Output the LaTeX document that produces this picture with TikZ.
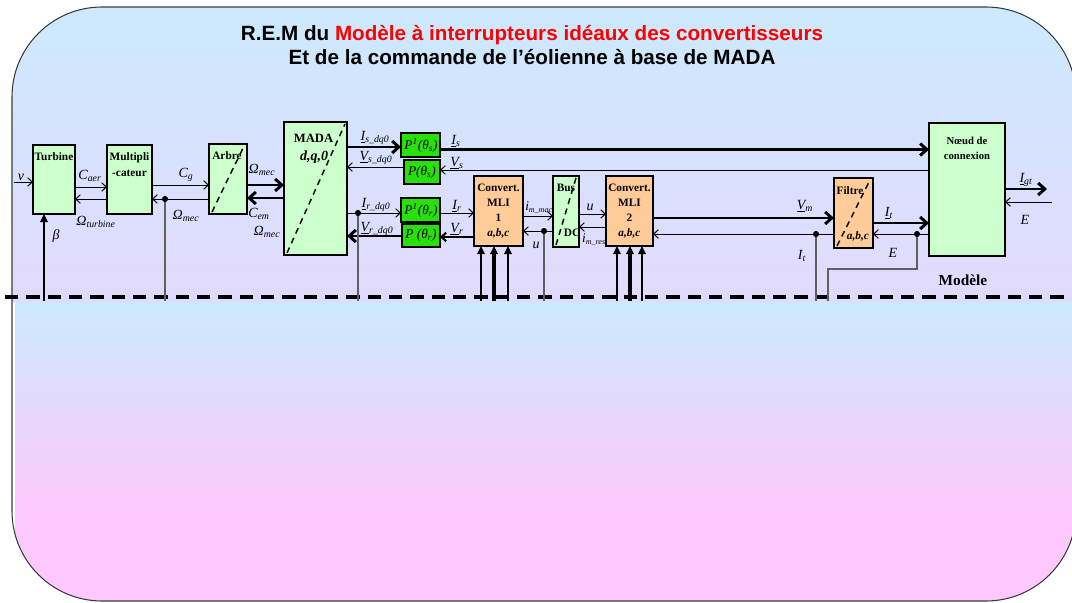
\documentclass[tikz,border=0pt]{standalone}
\usepackage{fontspec}
\setmainfont{Liberation Serif}
\newfontfamily\titlefont{Liberation Sans}
\usetikzlibrary{arrows.meta,calc}
\newdimen\pxu \pxu=0.75pt
\definecolor{bgtop}{RGB}{204,233,253}
\definecolor{bgbot}{RGB}{253,200,253}
\definecolor{lgreen}{RGB}{204,255,204}
\definecolor{pgreen}{RGB}{40,225,10}
\definecolor{orng}{RGB}{255,204,153}
\definecolor{fbgray}{RGB}{95,95,95}
\definecolor{framecol}{RGB}{60,60,60}
\definecolor{ttlred}{RGB}{255,0,0}
\newcommand\sbs[1]{\textsubscript{\textit{#1}}}
\tikzset{
  smallblk/.style={draw, line width=1.1pt, fill=lgreen, inner sep=0pt, outer sep=0pt},
  bigblk/.style={draw, line width=2.2pt, inner sep=0pt, outer sep=0pt},
  gblk/.style={bigblk, fill=lgreen},
  pblk/.style={bigblk, fill=pgreen},
  oblk/.style={bigblk, fill=orng},
  btxt/.style={font=\fontsize{8.5}{11.25}\selectfont\bfseries, inner sep=0pt, align=center},
  vlab/.style={font=\fontsize{10.5}{12}\selectfont\itshape, inner sep=0pt},
  ptxt/.style={font=\fontsize{10}{12}\selectfont\itshape, inner sep=0pt},
  diagline/.style={line width=1.1pt, dash pattern=on 4.5pt off 3.5pt},
  thinln/.style={line width=0.75pt},
  medln/.style={line width=1.5pt},
  thickln/.style={line width=2.2pt},
  fbln/.style={line width=1.1pt, draw=fbgray},
  openarr/.style={-{Straight Barb[length=3.5pt,width=6.5pt]}},
  openarrb/.style={-{Straight Barb[length=5pt,width=9pt]}},
  fillarr/.style={-{Triangle[length=6pt,width=5.5pt]}},
}
\begin{document}
\begin{tikzpicture}[x=0.75pt,y=-0.75pt]
\useasboundingbox (0,0) rectangle (1072,603);
\clip (0,0) rectangle (1072,603);
% background
\begin{scope}
  \clip[rounded corners=67.5pt] (12,7) rectangle (1076,601);
  \foreach \i in {0,...,59}{
    \pgfmathsetmacro\yA{7+\i*4.9167}
    \pgfmathsetmacro\yB{\yA+5.6}
    \pgfmathsetmacro\pc{\i*0.78}
    \fill[bgbot!\pc!bgtop] (12,\yA) rectangle (1076,\yB);
  }
  \foreach \i in {0,...,59}{
    \pgfmathsetmacro\yA{302+\i*4.9833}
    \pgfmathsetmacro\yB{\yA+5.7}
    \pgfmathsetmacro\pc{min(100,\i*2.4)}
    \fill[bgbot!\pc!bgtop] (15,\yA) rectangle (1076,\yB);
  }
\end{scope}
\draw[framecol, line width=0.8pt, rounded corners=67.5pt] (12,7) rectangle (1076,601);

% title
\node[font=\titlefont\fontsize{15.5}{18}\selectfont\bfseries, align=center] (title) at (532,45)
  {R.E.M du \textcolor{ttlred}{Modèle à interrupteurs idéaux des convertisseurs}\\Et de la commande de l’éolienne à base de MADA};

% dashed separation
\draw[line width=3pt, dash pattern=on 10pt off 6pt] (5,297) -- (1072,297);

% blocks
\node[smallblk, minimum width=42\pxu, minimum height=69\pxu] (turb) at (54,179.5) {};
\node[smallblk, minimum width=45\pxu, minimum height=69\pxu] (mult) at (129.5,179.5) {};
\node[smallblk, minimum width=38\pxu, minimum height=70\pxu] (arbre) at (228,179) {};
\node[gblk, minimum width=63\pxu, minimum height=133\pxu] (mada) at (315.5,188.5) {};
\node[pblk, minimum width=39\pxu, minimum height=24\pxu] (pis) at (420.5,145) {};
\node[pblk, minimum width=36\pxu, minimum height=24\pxu] (ps) at (422,172) {};
\node[pblk, minimum width=39\pxu, minimum height=24\pxu] (pir) at (420.5,210) {};
\node[pblk, minimum width=38\pxu, minimum height=23\pxu] (pr) at (421,235.5) {};
\node[oblk, minimum width=49\pxu, minimum height=70\pxu] (mli1) at (498.5,211) {};
\node[gblk, minimum width=26\pxu, minimum height=71\pxu] (bus) at (566,211.5) {};
\node[oblk, minimum width=47\pxu, minimum height=70\pxu] (mli2) at (629.5,211) {};
\node[oblk, minimum width=39\pxu, minimum height=70\pxu] (filtre) at (853.5,213) {};
\node[gblk, minimum width=76\pxu, minimum height=133\pxu] (noeud) at (967,189.5) {};

% diagonals
\draw[diagline] ($(arbre.south west)+(3,-2)$) -- ($(arbre.north east)+(-3,2)$);
\draw[diagline] ($(mada.south west)+(3,-2)$) -- ($(mada.north east)+(-2,2)$);
\draw[diagline] ($(bus.south west)+(3,-2)$) -- ($(bus.north east)+(-3,2)$);
\draw[diagline] ($(filtre.south west)+(3,-2)$) -- ($(filtre.north east)+(-3,2)$);

% block texts
\node[btxt] (tTurb) at (54,157) {Turbine};
\node[btxt, font=\fontsize{8.5}{12}\selectfont\bfseries] (tMult) at (129.5,165) {Multipli\\-cateur};
\node[btxt] (tArbre) at (227,156) {Arbre};
\node[btxt, font=\fontsize{9.5}{12}\selectfont\bfseries] (tMada) at (313.5,138) {MADA};
\node[btxt, font=\fontsize{10.5}{12}\selectfont\bfseries\itshape] (tDq) at (314,157) {d,q,0};
\node[btxt] (tMli1) at (498.5,211) {Convert.\\MLI\\1\\\textit{a,b,c}};
\node[btxt] (tMli2) at (629.5,211) {Convert.\\MLI\\2\\\textit{a,b,c}};
\node[btxt] (tBus) at (566,188) {Bus};
\node[btxt] (tDc) at (572,233) {DC};
\node[btxt] (tFil) at (850,191) {Filtre};
\node[btxt, font=\fontsize{8.5}{11}\selectfont\bfseries\itshape] (tFabc) at (858,236) {a,b,c};
\node[btxt, font=\fontsize{8}{11.25}\selectfont\bfseries] (tNoeud) at (967,148) {Nœud de\\connexion};
\node[btxt, font=\fontsize{11.5}{13}\selectfont\bfseries] (tModele) at (963,280) {Modèle};

\node[ptxt] (tpis) at (421,145) {P\textsuperscript{1}(θ\sbs{s})};
\node[ptxt] (tps) at (422,172) {P(θ\sbs{s})};
\node[ptxt] (tpir) at (421,210) {P\textsuperscript{1}(θ\sbs{r})};
\node[ptxt] (tpr) at (421,235.5) {P (θ\sbs{r})};

% points
\coordinate (vin) at (14,182);
\coordinate (igt) at (1047,189);
\coordinate (ein) at (1052,202);
\coordinate (d1) at (165,199);
\coordinate (d2) at (358,213);
\coordinate (d3) at (544,231);
\coordinate (d4) at (816,234);
\coordinate (d5) at (917,234);

% turbine side
\draw[thinln, openarr] (vin) -- (turb.west |- 0,182);
\draw[thinln, openarr] (turb.east |- 0,187) -- (mult.west |- 0,187);
\draw[thinln, openarr] (mult.west |- 0,199) -- (turb.east |- 0,199);
\draw[thinln, openarr] (mult.east |- 0,185) -- (arbre.west |- 0,185);
\draw[thinln, openarr] (arbre.west |- 0,199) -- (mult.east |- 0,199);
\draw[medln, fillarr] (44,301) -- (turb.south -| 44,0);
\draw[fbln] (d1) -- (165,301);
\fill (d1) circle (2.3pt);

\draw[thickln, openarrb] (arbre.east |- 0,185) -- (mada.west |- 0,185);
\draw[thickln, openarrb] (mada.west |- 0,198) -- (arbre.east |- 0,198);

% MADA right side
\draw[thickln, openarrb] (mada.east |- 0,147) -- (pis.west |- 0,147);
\draw[thinln, openarr] (ps.west |- 0,167) -- (mada.east |- 0,167);
\draw[thinln, openarr] (mada.east |- 0,213) -- (pir.west |- 0,213);
\draw[thickln, openarrb] (pr.west |- 0,236) -- (mada.east |- 0,236);
\draw[fbln] (d2) -- (358,301);
\fill (d2) circle (2.3pt);

\draw[thickln, openarrb] (pis.east |- 0,149.5) -- (noeud.west |- 0,149.5);
\draw[thinln, openarr] (noeud.west |- 0,170) -- (ps.east |- 0,170);
\draw[thinln, openarr] (pir.east |- 0,213) -- (mli1.west |- 0,213);
\draw[medln, openarr] (mli1.west |- 0,237) -- (pr.east |- 0,237);

% converter 1
\draw[medln, fillarr] (481,301) -- (mli1.south -| 481,0);
\draw[line width=3pt, fillarr] (494,301) -- (mli1.south -| 494,0);
\draw[medln, fillarr] (508,301) -- (mli1.south -| 508,0);
\draw[thinln, openarr] (mli1.east |- 0,216) -- (bus.west |- 0,216);
\draw[thinln, openarr] (bus.west |- 0,231) -- (mli1.east |- 0,231);
\draw[fbln] (d3) -- (544,301);
\fill (d3) circle (2.3pt);

% converter 2
\draw[thinln, openarr] (bus.east |- 0,214) -- (mli2.west |- 0,214);
\draw[thinln, openarr] (mli2.west |- 0,227) -- (bus.east |- 0,227);
\draw[medln, fillarr] (617,301) -- (mli2.south -| 617,0);
\draw[line width=3pt, fillarr] (630,301) -- (mli2.south -| 630,0);
\draw[medln, fillarr] (642,301) -- (mli2.south -| 642,0);

\draw[thickln, openarrb] (mli2.east |- 0,218) -- (filtre.west |- 0,218);
\draw[thinln, openarr] (filtre.west |- 0,234) -- (mli2.east |- 0,234);
\draw[fbln] (d4) -- (816,301);
\fill (d4) circle (2.3pt);

% filter to node
\draw[thickln, openarrb] (filtre.east |- 0,223) -- (noeud.west |- 0,223);
\draw[thinln, openarr] (noeud.west |- 0,234) -- (filtre.east |- 0,234);
\draw[fbln] (d5) -- (917,269) -- (828,269) -- (828,301);
\fill (d5) circle (2.3pt);

\draw[thickln, openarrb] (noeud.east |- 0,189) -- (igt);
\draw[thinln, openarr] (ein) -- (noeud.east |- 0,202);

% variable labels
\node[vlab] (lv) at (21,177) {v};
\node[vlab] (lcaer) at (90,176) {C\sbs{aer}};
\node[vlab] (lomt) at (96,222) {Ω\sbs{turbine}};
\node[vlab] (lbeta) at (56,236) {β};
\node[vlab] (lcg) at (186,175) {C\sbs{g}};
\node[vlab] (lom1) at (186,216) {Ω\sbs{mec}};
\node[vlab] (lom2) at (262,170) {Ω\sbs{mec}};
\node[vlab] (lcem) at (259,214) {C\sbs{em}};
\node[vlab] (lom3) at (267,232) {Ω\sbs{mec}};
\node[vlab] (lisdq) at (375,138) {\underline{I}\sbs{s\_dq0}};
\node[vlab] (lvsdq) at (376,158) {\underline{V}\sbs{s\_dq0}};
\node[vlab] (lirdq) at (376,205) {\underline{I}\sbs{r\_dq0}};
\node[vlab] (lvrdq) at (377,229) {\underline{V}\sbs{r\_dq0}};
\node[vlab] (lis) at (456,141) {\underline{I}\sbs{s}};
\node[vlab] (lvs) at (457,163) {\underline{V}\sbs{s}};
\node[vlab] (lir) at (457,206) {\underline{I}\sbs{r}};
\node[vlab] (lvr) at (457,229) {\underline{V}\sbs{r}};
\node[vlab, font=\fontsize{10}{12}\selectfont\itshape] (limm) at (539,208) {i\textsubscript{\fontsize{6}{7}\selectfont\textit{m\_mac}}};
\node[vlab] (lu1) at (536,245) {u};
\node[vlab] (lu2) at (590,207) {u};
\node[vlab, font=\fontsize{10}{12}\selectfont\itshape] (limr) at (594,240) {i\textsubscript{\fontsize{6}{7}\selectfont\textit{m\_res}}};
\node[vlab] (lvm) at (805,206) {\underline{V}\sbs{m}};
\node[vlab] (lit1) at (802,256) {I\sbs{t}};
\node[vlab] (lit2) at (889,213) {\underline{I}\sbs{t}};
\node[vlab] (le1) at (893,253) {E};
\node[vlab] (ligt) at (1026,180) {\underline{I}\sbs{gt}};
\node[vlab] (le2) at (1025,220) {E};
\end{tikzpicture}
\end{document}
